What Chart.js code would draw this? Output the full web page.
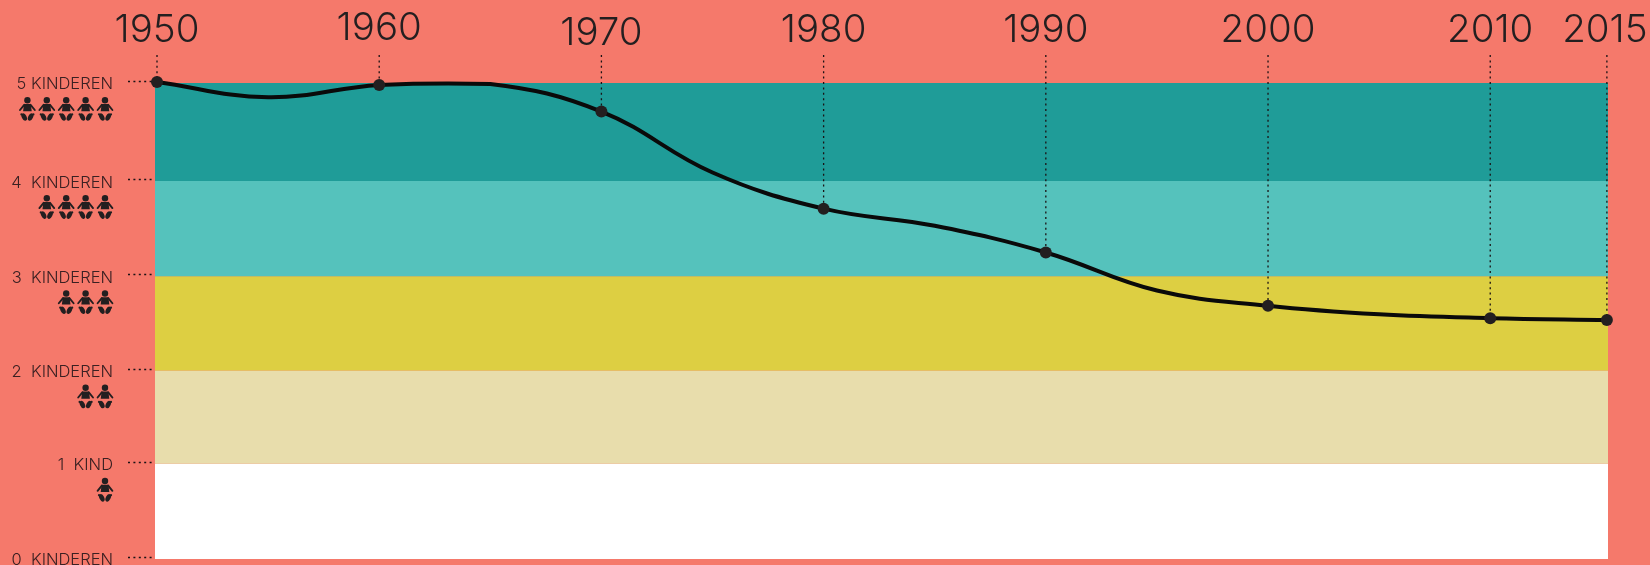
<!DOCTYPE html>
<html>
<head>
<meta charset="utf-8">
<title>Kinderen per vrouw</title>
<script src="https://cdn.jsdelivr.net/npm/chart.js@4/dist/chart.umd.min.js"></script>
<style>
    html, body { margin: 0; padding: 0; background: #F5796B; overflow: hidden; }
    canvas { display: block; }
</style>
</head>
<body>
<canvas id="kinderenChart" width="1650" height="565"></canvas>
<script>
// band edges and their labels
const bandTops = [5, 3.97, 2.97, 1.98, 1.0];
const bandBottoms = [3.97, 2.97, 1.98, 1.0, 0];
const bandColors = ["#1F9C98", "#55C2BC", "#DDCF42", "#E8DDAC", "#FFFFFF"];
const yTickValues = [5, 3.97, 2.97, 1.98, 1.0, 0];
const yTickLabels = ["5 KINDEREN", "4  KINDEREN", "3  KINDEREN", "2  KINDEREN", "1  KIND", "0  KINDEREN"];
const babyCounts = [5, 4, 3, 2, 1, 0];

// the marked years. the original axis is a little stretched at the end,
// 2015 sits where 2015.25 would be on an even scale
const dotYears = [1950, 1960, 1970, 1980, 1990, 2000, 2010, 2015.25];
const dotValues = [5.01, 4.98, 4.70, 3.68, 3.22, 2.66, 2.53, 2.51];
const yearLabels = ["1950", "1960", "1970", "1980", "1990", "2000", "2010", "2015"];
const yearShiftY = [0, -2, 3, 0, 0, 0, 0, 0];
const yearShiftX = [0, 0, 0, 0, 0, 0, 0, -2];

// the curve itself, read every five years
const curveYears = [1950, 1955, 1960, 1965, 1970, 1975, 1980, 1985, 1990, 1995, 2000, 2005, 2010, 2015.25];
const curveValues = [5.01, 4.85, 4.98, 4.99, 4.70, 4.06, 3.68, 3.50, 3.22, 2.82, 2.66, 2.57, 2.53, 2.51];

const xMin = 1949.91;
const xMax = 2015.30;
const inkColor = "#231F20";

function toPoints(xs, ys) {
    return xs.map((x, i) => ({ x: x, y: ys[i] }));
}

// one baby pictogram, cx is the middle, top is the top of the head
function drawBaby(ctx, cx, top) {
    ctx.save();
    ctx.translate(cx, top);
    ctx.fillStyle = inkColor;
    ctx.strokeStyle = inkColor;

    // head
    ctx.beginPath();
    ctx.arc(0, 3.2, 3.2, 0, Math.PI * 2);
    ctx.fill();

    // body
    ctx.beginPath();
    ctx.moveTo(-3.4, 7);
    ctx.lineTo(3.4, 7);
    ctx.lineTo(4.3, 14.2);
    ctx.lineTo(-4.3, 14.2);
    ctx.closePath();
    ctx.fill();

    // arms
    ctx.lineWidth = 1.9;
    ctx.lineCap = "round";
    ctx.beginPath();
    ctx.moveTo(-3.2, 7.8);
    ctx.lineTo(-7.4, 13);
    ctx.moveTo(3.2, 7.8);
    ctx.lineTo(7.4, 13);
    ctx.stroke();

    // feet
    [-1, 1].forEach(function (side) {
        ctx.beginPath();
        ctx.ellipse(side * 3.2, 20, 2.4, 4, side * 0.45, 0, Math.PI * 2);
        ctx.fill();
        ctx.beginPath();
        ctx.arc(side * 6, 17.4, 1.1, 0, Math.PI * 2);
        ctx.fill();
    });
    ctx.restore();
}

// dotted stubs, drop lines, baby rows and the year labels
const decorationPlugin = {
    id: "decoration",
    afterDatasetsDraw(chart) {
        const ctx = chart.ctx;
        const x = chart.scales.x;
        const y = chart.scales.y;

        ctx.save();
        ctx.strokeStyle = "#1a1214";
        ctx.lineWidth = 1.3;
        ctx.setLineDash([2, 3.4]);

        yTickValues.forEach(function (value) {
            const py = Math.round(y.getPixelForValue(value)) - 2;
            ctx.beginPath();
            ctx.moveTo(128, py + 0.5);
            ctx.lineTo(x.left, py + 0.5);
            ctx.stroke();
        });

        dotYears.forEach(function (year, i) {
            const px = x.getPixelForValue(year);
            ctx.beginPath();
            ctx.moveTo(px, 55);
            ctx.lineTo(px, y.getPixelForValue(dotValues[i]) - 5);
            ctx.stroke();
        });
        ctx.restore();

        babyCounts.forEach(function (count, i) {
            const top = y.getPixelForValue(yTickValues[i]) + 14;
            for (let n = 0; n < count; n++) {
                drawBaby(ctx, 105 - n * 19.4, top);
            }
        });

        ctx.save();
        ctx.fillStyle = inkColor;
        ctx.font = "300 38.5px Inter";
        ctx.textAlign = "center";
        ctx.textBaseline = "alphabetic";
        yearLabels.forEach(function (label, i) {
            const px = x.getPixelForValue(dotYears[i]) + yearShiftX[i];
            ctx.fillText(label, px, 42 + yearShiftY[i]);
        });
        ctx.restore();
    }
};

function buildBandDatasets() {
    return bandTops.map(function (top, i) {
        return {
            data: toPoints([xMin, xMax], [top, top]),
            fill: { value: bandBottoms[i] },
            backgroundColor: bandColors[i],
            borderWidth: 0,
            pointRadius: 0,
            order: 10
        };
    });
}

new Chart(document.getElementById("kinderenChart"), {
    type: "line",
    data: {
        datasets: [
            {
                data: toPoints(dotYears, dotValues),
                showLine: false,
                pointRadius: 6,
                pointBackgroundColor: inkColor,
                pointBorderWidth: 0,
                clip: false,
                order: 1
            },
            {
                data: toPoints(curveYears, curveValues),
                borderColor: "#0A0A0A",
                borderWidth: 4,
                tension: 0.4,
                pointRadius: 0,
                clip: false,
                order: 2
            }
        ].concat(buildBandDatasets())
    },
    options: {
        responsive: false,
        animation: false,
        layout: { padding: { top: 83, right: 42, bottom: 6, left: 0 } },
        plugins: { legend: { display: false }, tooltip: { enabled: false } },
        scales: {
            x: { type: "linear", min: xMin, max: xMax, display: false },
            y: {
                type: "linear",
                min: 0,
                max: 5,
                afterFit(scale) {
                    // tick padding here is only for the gap to the labels
                    scale.width = 155;
                    scale.paddingTop = 0;
                    scale.paddingBottom = 0;
                },
                afterBuildTicks(scale) {
                    scale.ticks = yTickValues.map(value => ({ value: value }));
                },
                grid: { display: false, drawTicks: false },
                border: { display: false },
                ticks: {
                    autoSkip: false,
                    padding: 42,
                    labelOffset: 1.5,
                    color: "#3a2022",
                    font: { family: "Inter", size: 16.5, weight: "300" },
                    callback: function (value) {
                        return yTickLabels[yTickValues.indexOf(value)];
                    }
                }
            }
        }
    },
    plugins: [decorationPlugin]
});
</script>
</body>
</html>
